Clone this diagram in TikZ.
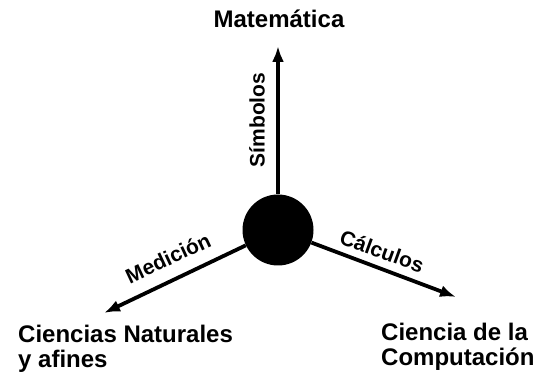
\documentclass[tikz,border=0pt]{standalone}
\usepackage{fontspec}
\setmainfont{Liberation Sans}
\usepackage{tikz}
\usetikzlibrary{arrows.meta, positioning, calc}

\begin{document}
\begin{tikzpicture}[
        x=1pt, y=1pt,
        % Style for the field names at the ends
        field/.style={
            font=\fontsize{24}{25.5}\selectfont\bfseries,
            inner sep=0pt, align=left
        },
        % Style for the words written along the arrows
        relation/.style={
            font=\fontsize{21}{24}\selectfont\bfseries, inner sep=0pt
        },
        % Style for the thick arrows
        link/.style={
            line width=3.8pt, -{Latex[length=16pt, width=12pt]}
        }
    ]

        % 0. Canvas
        \useasboundingbox (0,0) rectangle (546,377);

        % 1. Central hub
        \node[circle, fill=black, minimum size=71pt, inner sep=0pt] (hub) at (278,147) {};

        % 2. Fields
        \node[field, anchor=base]       (mat)  at (279,349)  {Matemática};
        \node[field, anchor=north west] (nat)  at (18,52.5)  {Ciencias Naturales\\y afines};
        \node[field, anchor=north west] (comp) at (381,54.5) {Ciencia de la\\Computación};

        % 3. Arrow ends
        \coordinate (matTip)  at (278,331);
        \coordinate (natTip)  at (104,64);
        \coordinate (compTip) at (456,80);

        % 4. Arrows from the hub
        \draw[link] (hub) -- (matTip);
        \draw[link] (hub) -- (natTip);
        \draw[link] (hub) -- (compTip);

        % 5. Words along the arrows
        \node[relation, rotate=90]  (simb) at (257,257) {Símbolos};
        \node[relation, rotate=25]  (med)  at (168,119) {Medición};
        \node[relation, rotate=-20] (calc) at (382,126) {Cálculos};

    \end{tikzpicture}
\end{document}
